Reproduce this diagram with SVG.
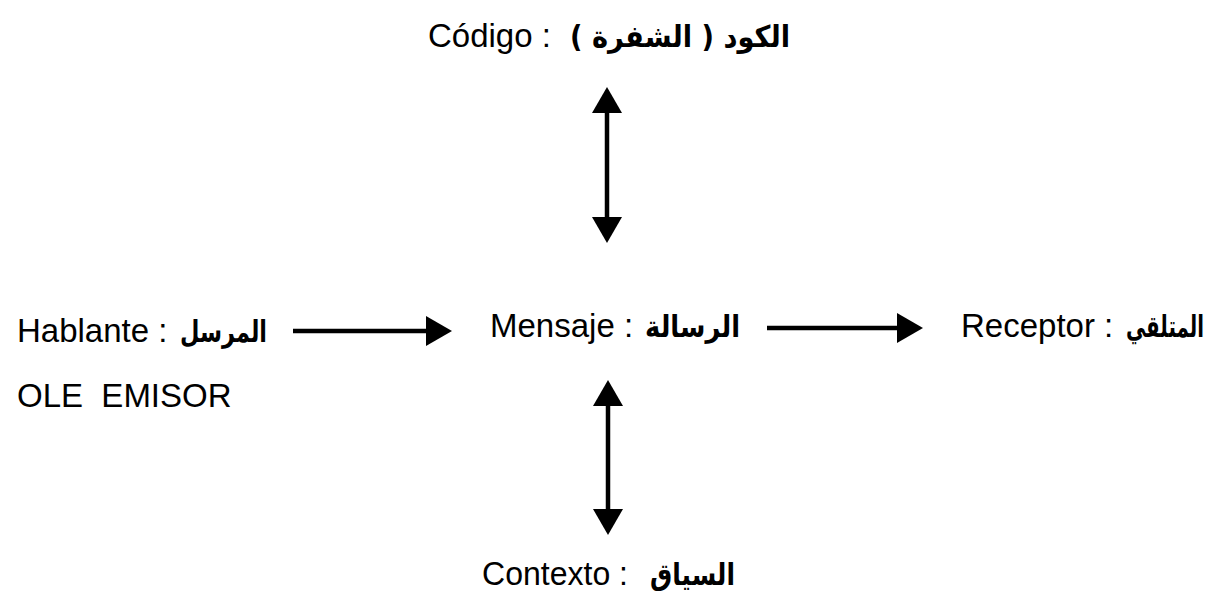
<svg xmlns="http://www.w3.org/2000/svg" width="1210" height="601" viewBox="0 0 1210 601">
<defs>
<style>
.t{font-family:"Liberation Sans","DejaVu Sans",Arial,sans-serif;font-size:33px;fill:#000}
.ar{font-family:"DejaVu Sans","Noto Sans",sans-serif;font-size:30px;font-weight:bold;fill:#000}
.c{stroke:#000;stroke-width:4.5;fill:none}
</style>
<marker id="ah" markerUnits="userSpaceOnUse" viewBox="0 0 26 30" markerWidth="26" markerHeight="30" refX="0" refY="15" orient="auto-start-reverse">
<path d="M0,0 L26,15 L0,30 z" fill="#000"/>
</marker>
</defs>
<rect width="1210" height="601" fill="#fff"/>
<g id="codigo">
<text class="t" x="428" y="47">Código :</text>
<text class="ar" x="570" y="47" textLength="220" lengthAdjust="spacingAndGlyphs">الكود ( الشفرة )&#x200F;</text>
</g>
<g id="hablante">
<text class="t" x="17" y="342">Hablante :</text>
<text class="ar" x="180" y="342" textLength="87" lengthAdjust="spacingAndGlyphs">المرسل</text>
<text class="t" x="17" y="407" xml:space="preserve">OLE  EMISOR</text>
</g>
<g id="mensaje">
<text class="t" x="490" y="337">Mensaje :</text>
<text class="ar" x="645" y="337" textLength="95" lengthAdjust="spacingAndGlyphs">الرسالة</text>
</g>
<g id="receptor">
<text class="t" x="961" y="337">Receptor :</text>
<text class="ar" x="0" y="0" text-anchor="end" transform="translate(1204,337) scale(0.66,1)">المتلقي</text>
</g>
<g id="contexto">
<text class="t" x="482" y="585" textLength="146" lengthAdjust="spacingAndGlyphs">Contexto :</text>
<text class="ar" x="650" y="585" textLength="85" lengthAdjust="spacingAndGlyphs">السياق</text>
</g>
<g id="connectors">
<line class="c" x1="293" y1="331" x2="426" y2="331" marker-end="url(#ah)"/>
<line class="c" x1="767" y1="328" x2="897" y2="328" marker-end="url(#ah)"/>
<line class="c" x1="607" y1="113" x2="607" y2="217" marker-start="url(#ah)" marker-end="url(#ah)"/>
<line class="c" x1="608" y1="406" x2="608" y2="509" marker-start="url(#ah)" marker-end="url(#ah)"/>
</g>
</svg>
